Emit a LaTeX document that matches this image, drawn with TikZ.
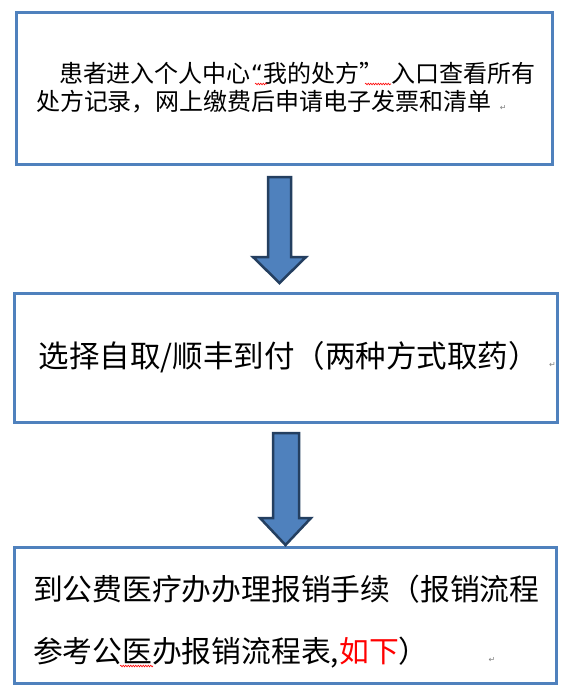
\documentclass[tikz,border=0pt]{standalone}
\usepackage{fontspec}
\newfontfamily\cjk{Noto Sans CJK SC}
\newfontfamily\symfont{DejaVu Sans}
\usetikzlibrary{decorations.pathmorphing}
\definecolor{boxline}{HTML}{4F81BD}
\definecolor{arrowfill}{HTML}{4F81BD}
\definecolor{arrowline}{HTML}{243F60}
\newcommand{\retmark}{{\symfont\fontsize{8}{8}\selectfont\textcolor{gray}{↵}}}

\begin{document}
\begin{tikzpicture}[x=1pt, y=-1pt,
    stepbox/.style={draw=boxline, line width=3pt, align=left, inner ysep=0pt},
    blockarrow/.style={fill=arrowfill, draw=arrowline, line width=2.5pt, line join=miter},
    spell/.style={draw=red, line width=0.6pt, decorate,
                  decoration={snake, amplitude=0.8pt, segment length=2.5pt}}
]
    \useasboundingbox[fill=white] (0,0) rectangle (561,694);

    % 三个步骤
    \node[stepbox, minimum width=536pt, minimum height=152pt, inner xsep=20pt, text width=496pt,
          font=\cjk\fontsize{24}{28}\selectfont] (s1) at (284,88)
        {\mbox{\hspace*{23pt}患者进入个人中心{\symfont“}我的处方”\ 入口查看所有}\\处方记录，网上缴费后申请电子发票和清单\ \retmark};
    \node[stepbox, minimum width=543pt, minimum height=129pt, inner xsep=20pt, text width=503pt,
          font=\cjk\fontsize{30.5}{34}\selectfont] (s2) at (285.5,357.5)
        {\mbox{\hspace*{5pt}选择自取/顺丰到付（两种方式取药）\ \retmark}};
    \node[stepbox, minimum width=542pt, minimum height=136pt, inner xsep=19pt, text width=504pt,
          font=\cjk\fontsize{29.8}{62}\selectfont] (s3) at (285,615)
        {\rule{0pt}{38pt}到公费医疗办办理报销手续（报销流程\\参考公医办报销流程表,\textcolor{red}{如下}）\hspace{60pt}\retmark};

    % 箭头
    \draw[blockarrow] (268,177) -- (291,177) -- (291,257) -- (306,257)
        -- (279.5,283) -- (253,257) -- (268,257) -- cycle;
    \draw[blockarrow] (273,433) -- (299,433) -- (299,518) -- (311,518)
        -- (285.5,545) -- (260,518) -- (273,518) -- cycle;

    % 拼写检查波浪线
    \draw[spell] (255,84) -- (267,84);
    \draw[spell] (365,84) -- (391,84);
    \draw[spell] (120,666) -- (153,666);
\end{tikzpicture}
\end{document}
